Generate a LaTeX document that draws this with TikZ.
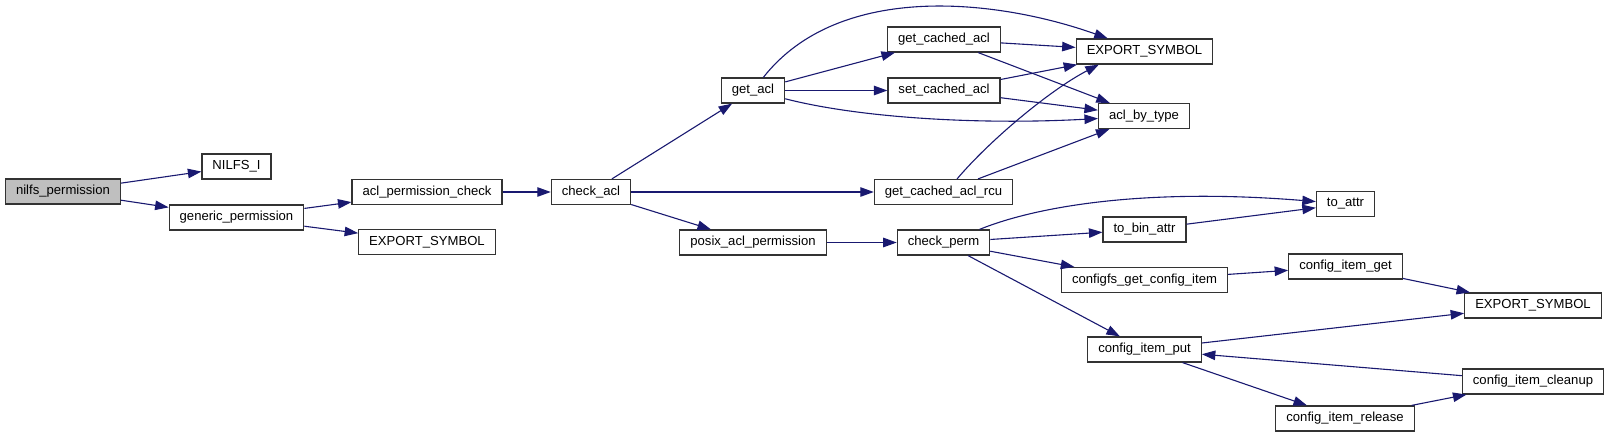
\documentclass[tikz,border=0pt]{standalone}
\usepackage{fontspec}
\setmainfont{Liberation Sans}
\usepackage{xcolor}
\usetikzlibrary{arrows.meta}
\definecolor{edgeblue}{HTML}{191970}
\definecolor{rootgray}{HTML}{BFBFBF}

\begin{document}
\begin{tikzpicture}[x=1pt,y=-1pt,
  fn/.style={draw=black!80,line width=1.2pt,inner xsep=10.5pt,inner ysep=0pt,
    minimum height=25pt,font=\fontsize{13.1}{15}\selectfont},
  call/.style={edgeblue,line width=1.1pt,-{Triangle[length=13.5pt,width=9.5pt]}}]
  \useasboundingbox (0,0) rectangle (1609,437);
  % functions
  \node[fn,fill=rootgray] (nilfs) at (63,191.5) {nilfs\_permission};
  \node[fn] (nilfsi) at (236.5,166.5) {NILFS\_I};
  \node[fn] (generic) at (236.5,217.5) {generic\_permission};
  \node[fn] (aclcheck) at (427,192) {acl\_permission\_check};
  \node[fn] (expa) at (427,242) {EXPORT\_SYMBOL};
  \node[fn] (checkacl) at (591,192) {check\_acl};
  \node[fn] (getacl) at (753,90.5) {get\_acl};
  \node[fn] (posix) at (753,242.5) {posix\_acl\_permission};
  \node[fn] (getcached) at (944,39.5) {get\_cached\_acl};
  \node[fn] (setcached) at (944,90.5) {set\_cached\_acl};
  \node[fn] (rcu) at (943.5,192) {get\_cached\_acl\_rcu};
  \node[fn] (checkperm) at (943.5,242.5) {check\_perm};
  \node[fn] (expb) at (1144.5,51.5) {EXPORT\_SYMBOL};
  \node[fn] (bytype) at (1144,116) {acl\_by\_type};
  \node[fn] (tobin) at (1144.5,229.5) {to\_bin\_attr};
  \node[fn] (configfs) at (1144.5,280) {configfs\_get\_config\_item};
  \node[fn] (itemput) at (1144.5,349.5) {config\_item\_put};
  \node[fn] (toattr) at (1345.5,204) {to\_attr};
  \node[fn] (itemget) at (1345.5,266.5) {config\_item\_get};
  \node[fn] (release) at (1345,418.5) {config\_item\_release};
  \node[fn] (expc) at (1533,305.5) {EXPORT\_SYMBOL};
  \node[fn] (cleanup) at (1533,381.5) {config\_item\_cleanup};
  % calls
  \draw[call] (nilfs) -- (nilfsi);
  \draw[call] (nilfs) -- (generic);
  \draw[call] (generic) -- (aclcheck);
  \draw[call] (generic) -- (expa);
  \draw[call] (aclcheck) -- (checkacl);
  \draw[call] (checkacl) -- (getacl);
  \draw[call] (checkacl) -- (rcu);
  \draw[call] (checkacl) -- (posix);
  \draw[call] (getacl) .. controls (840,-20) and (1000,0) .. (expb);
  \draw[call] (getacl) -- (getcached);
  \draw[call] (getacl) -- (setcached);
  \draw[call] (getacl) .. controls (860,118) and (980,125) .. (bytype);
  \draw[call] (getcached) -- (expb);
  \draw[call] (getcached) -- (bytype);
  \draw[call] (setcached) -- (expb);
  \draw[call] (setcached) -- (bytype);
  \draw[call] (rcu.44) .. controls (990,140) and (1050,90) .. (expb.196);
  \draw[call] (rcu) -- (bytype);
  \draw[call] (posix) -- (checkperm);
  \draw[call] (checkperm.20) .. controls (1040,205) and (1150,188) .. (toattr);
  \draw[call] (checkperm) -- (tobin);
  \draw[call] (checkperm) -- (configfs);
  \draw[call] (checkperm) -- (itemput);
  \draw[call] (tobin) -- (toattr);
  \draw[call] (configfs) -- (itemget);
  \draw[call] (itemget) -- (expc);
  \draw[call] (itemput) -- (expc);
  \draw[call] (itemput) -- (release);
  \draw[call] (release) -- (cleanup);
  \draw[call] (cleanup) -- (itemput);
\end{tikzpicture}
\end{document}
